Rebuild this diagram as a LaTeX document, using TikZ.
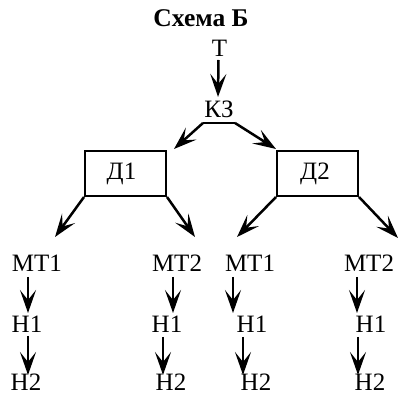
\documentclass[tikz,border=0pt]{standalone}
\usepackage{fontspec}
\setmainfont{Liberation Serif}
\usetikzlibrary{arrows.meta}
\begin{document}
\begin{tikzpicture}[x=1pt,y=-1pt,
  lbl/.style={inner sep=0pt,anchor=base,font=\fontsize{25}{30}\selectfont},
  ttl/.style={inner sep=0pt,anchor=base,font=\fontsize{25.5}{30}\selectfont\bfseries},
  dbox/.style={draw,line width=2pt,minimum width=81pt,minimum height=45pt,inner sep=0pt,font=\fontsize{25}{30}\selectfont},
  arr/.style={line width=2.5pt,-{Stealth[length=23pt,width=16pt,inset=10pt]}},
  seg/.style={line width=2.5pt}]
\useasboundingbox (0,0) rectangle (399,395);
\node[ttl] (title) at (201,27) {Схема Б};
\node[lbl] (t) at (219.5,57) {Т};
\node[lbl] (kz) at (219,118) {КЗ};
\node[dbox] (d1) at (125.5,173.5) {\hspace*{-8pt}Д1};
\node[dbox] (d2) at (317.5,173.5) {\hspace*{-5pt}Д2};
\node[lbl] (mt1a) at (37,272) {МТ1};
\node[lbl] (mt2a) at (177,272) {МТ2};
\node[lbl] (mt1b) at (250,272) {МТ1};
\node[lbl] (mt2b) at (369,272) {МТ2};
\node[lbl] (h1a) at (27,333) {Н1};
\node[lbl] (h1b) at (167,333) {Н1};
\node[lbl] (h1c) at (252,333) {Н1};
\node[lbl] (h1d) at (371,333) {Н1};
\node[lbl] (h2a) at (26,390) {Н2};
\node[lbl] (h2b) at (171,390) {Н2};
\node[lbl] (h2c) at (256,390) {Н2};
\node[lbl] (h2d) at (370,390) {Н2};
% top
\draw[arr] ([shift={(-1,3)}]t.base) -- ([shift={(-1,-21)}]kz.base);
\draw[seg] ([shift={(-16,5)}]kz.base) -- ([shift={(16,5)}]kz.base);
\draw[arr] ([shift={(-16,5)}]kz.base) -- ([shift={(7,-1)}]d1.north east);
\draw[arr] ([shift={(16,5)}]kz.base) -- ([shift={(0,-1)}]d2.north west);
% boxes to row
\draw[arr] (d1.south west) -- ([shift={(18,-35)}]mt1a.base);
\draw[arr] (d1.south east) -- ([shift={(18,-35)}]mt2a.base);
\draw[arr] (d2.south west) -- ([shift={(-13,-35)}]mt1b.base);
\draw[arr] (d2.south east) -- ([shift={(29,-34)}]mt2b.base);
% columns
\draw[arr] ([shift={(-9,5)}]mt1a.base) -- ([shift={(1,-20)}]h1a.base);
\draw[arr] ([shift={(1,3)}]h1a.base) -- ([shift={(2,-15)}]h2a.base);
\draw[arr] ([shift={(-4,5)}]mt2a.base) -- ([shift={(6,-20)}]h1b.base);
\draw[arr] ([shift={(-4,4)}]h1b.base) -- ([shift={(-8,-15)}]h2b.base);
\draw[arr] ([shift={(-17,5)}]mt1b.base) -- ([shift={(-19,-20)}]h1c.base);
\draw[arr] ([shift={(-9,4)}]h1c.base) -- ([shift={(-13,-15)}]h2c.base);
\draw[arr] ([shift={(-12,5)}]mt2b.base) -- ([shift={(-14,-20)}]h1d.base);
\draw[arr] ([shift={(-13,4)}]h1d.base) -- ([shift={(-12,-15)}]h2d.base);
\end{tikzpicture}
\end{document}
